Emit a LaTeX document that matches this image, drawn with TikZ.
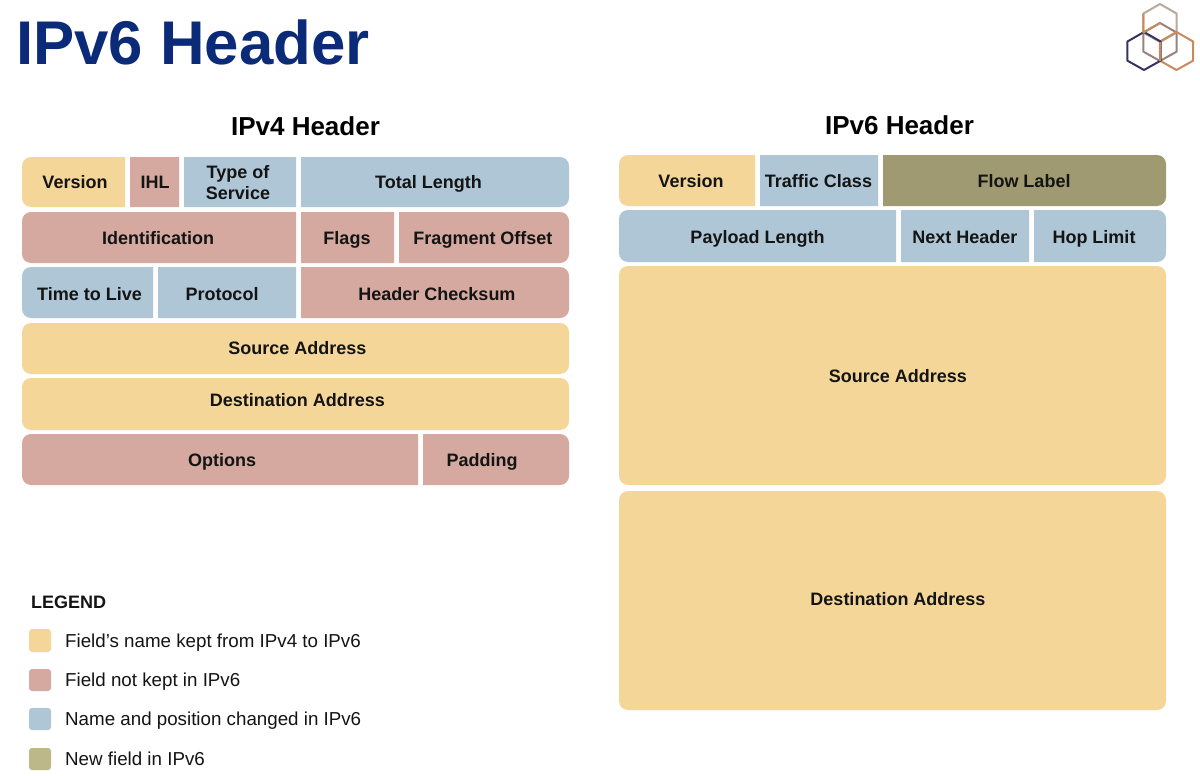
\documentclass[tikz,border=0pt]{standalone}
\usepackage{fontspec}
\setmainfont{Liberation Sans}
\definecolor{fyellow}{HTML}{F4D798}
\definecolor{fred}{HTML}{D5A99F}
\definecolor{fblue}{HTML}{AEC6D6}
\definecolor{folive}{HTML}{A09A72}
\definecolor{lolive}{HTML}{BDB88A}
\definecolor{titleblue}{HTML}{0B2A78}
\definecolor{inkblack}{HTML}{141414}
\definecolor{hextop}{HTML}{B9AA9A}
\definecolor{hexmid}{HTML}{9A8278}
\definecolor{hexleft}{HTML}{35335F}
\definecolor{hexright}{HTML}{C98A5E}
\definecolor{hexorange}{HTML}{C68B5C}
\tikzset{
  celltext/.style={font=\fontsize{18}{21}\selectfont\bfseries, text=inkblack, align=center, inner sep=0pt, text height=13pt, text depth=4pt},
  headtext/.style={font=\fontsize{26}{30}\selectfont\bfseries, text=black, inner sep=0pt, text height=19pt, text depth=5pt},
  legtext/.style={font=\fontsize{18.75}{22}\selectfont, text=inkblack, anchor=west, inner sep=0pt, text height=13pt, text depth=4pt},
  hexline/.style={line width=2pt, line join=round},
}
\newcommand{\hexagon}[3]{% cx, top y, colour
  \draw[hexline,#3] (#1,#2) -- ({#1+16.7},{#2+9.6}) -- ({#1+16.7},{#2+28.6}) -- (#1,{#2+38}) -- ({#1-16.7},{#2+28.6}) -- ({#1-16.7},{#2+9.6}) -- cycle;
}
\newcommand{\cellbg}[7]{% x1,y1,x2,y2,colour,left r,right r
  \fill[#5] ({(#1+#3)/2},#2) [rounded corners=#7pt] -- (#3,#2) -- (#3,#4) -- ({(#1+#3)/2},#4)
     [rounded corners=#6pt] -- (#1,#4) -- (#1,#2) -- cycle;
}
\begin{document}
\begin{tikzpicture}[x=1pt,y=-1pt]
\useasboundingbox (0,0) rectangle (1200,776);
\fill[white] (0,0) rectangle (1200,776);
\node[font=\fontsize{61.7}{72}\selectfont\bfseries, text=titleblue, inner sep=0pt, text height=45pt, text depth=1pt] (title) at (193,43) {IPv6 Header};

% logo
\hexagon{1160}{4}{hextop}
\hexagon{1160}{23}{hexmid}
\hexagon{1176.5}{32}{hexright}
\hexagon{1144}{32}{hexleft}
\draw[hexline,hexorange] (1143.3,13.6) -- (1143.3,32.6) -- (1160,23);
\draw[hexline,hexorange] (1160,42) -- (1160,61);

\node[headtext] (h4) at (305.5,128) {IPv4 Header};
\node[headtext] (h6) at (899.5,127) {IPv6 Header};

% IPv4 header
\cellbg{22}{157}{125}{207}{fyellow}{9}{0.01}
\cellbg{130}{157}{179}{207}{fred}{0.01}{0.01}
\cellbg{184}{157}{296}{207}{fblue}{0.01}{0.01}
\cellbg{301}{157}{569}{207}{fblue}{0.01}{9}
\cellbg{22}{212}{296}{263}{fred}{9}{0.01}
\cellbg{301}{212}{394}{263}{fred}{0.01}{0.01}
\cellbg{399}{212}{569}{263}{fred}{0.01}{9}
\cellbg{22}{267}{153}{318}{fblue}{9}{0.01}
\cellbg{158}{267}{296}{318}{fblue}{0.01}{0.01}
\cellbg{301}{267}{569}{318}{fred}{0.01}{9}
\cellbg{22}{323}{569}{374}{fyellow}{9}{9}
\cellbg{22}{378}{569}{430}{fyellow}{9}{9}
\cellbg{22}{434}{418}{485}{fred}{9}{0.01}
\cellbg{423}{434}{569}{485}{fred}{0.01}{9}

\node[celltext] (a1) at (75,184) {Version};
\node[celltext] (a2) at (155,184) {IHL};
\node[celltext, font=\fontsize{18}{21.5}\selectfont\bfseries, text height=, text depth=] (a3) at (238,182.5) {Type of\\Service};
\node[celltext] (a4) at (428.5,184) {Total Length};
\node[celltext] (a5) at (158,239.5) {Identification};
\node[celltext] (a6) at (347,239.5) {Flags};
\node[celltext] (a7) at (483,239.5) {Fragment Offset};
\node[celltext] (a8) at (89.5,296) {Time to Live};
\node[celltext] (a9) at (222,296) {Protocol};
\node[celltext] (a10) at (437,296) {Header Checksum};
\node[celltext] (a11) at (297.5,350) {Source Address};
\node[celltext] (a12) at (297.5,402) {Destination Address};
\node[celltext] (a13) at (222,461.5) {Options};
\node[celltext] (a14) at (482,461.5) {Padding};

% IPv6 header
\cellbg{619}{155}{755}{206}{fyellow}{9}{0.01}
\cellbg{760}{155}{878}{206}{fblue}{0.01}{0.01}
\cellbg{883}{155}{1166}{206}{folive}{0.01}{9}
\cellbg{619}{210}{896}{262}{fblue}{9}{0.01}
\cellbg{901}{210}{1029}{262}{fblue}{0.01}{0.01}
\cellbg{1034}{210}{1166}{262}{fblue}{0.01}{9}
\cellbg{619}{266}{1166}{485}{fyellow}{9}{9}
\cellbg{619}{491}{1166}{710}{fyellow}{9}{9}

\node[celltext] (b1) at (691,183) {Version};
\node[celltext] (b2) at (818.5,183) {Traffic Class};
\node[celltext] (b3) at (1024,183) {Flow Label};
\node[celltext] (b4) at (757.5,238.5) {Payload Length};
\node[celltext] (b5) at (965,238.5) {Next Header};
\node[celltext] (b6) at (1094,238.5) {Hop Limit};
\node[celltext] (b7) at (898,377.5) {Source Address};
\node[celltext] (b8) at (898,601) {Destination Address};

% legend
\node[legtext, font=\fontsize{18}{21}\selectfont\bfseries] (lg) at (31,604) {LEGEND};
\fill[fyellow, rounded corners=3pt] (29,629) rectangle (51,652);
\fill[fred, rounded corners=3pt] (29,669) rectangle (51,691);
\fill[fblue, rounded corners=3pt] (29,708) rectangle (51,730);
\fill[lolive, rounded corners=3pt] (29,748) rectangle (51,770);
\node[legtext] (l1) at (65,642.5) {Field’s name kept from IPv4 to IPv6};
\node[legtext] (l2) at (65,681.5) {Field not kept in IPv6};
\node[legtext] (l3) at (65,721) {Name and position changed in IPv6};
\node[legtext] (l4) at (65,761) {New field in IPv6};
\end{tikzpicture}
\end{document}
